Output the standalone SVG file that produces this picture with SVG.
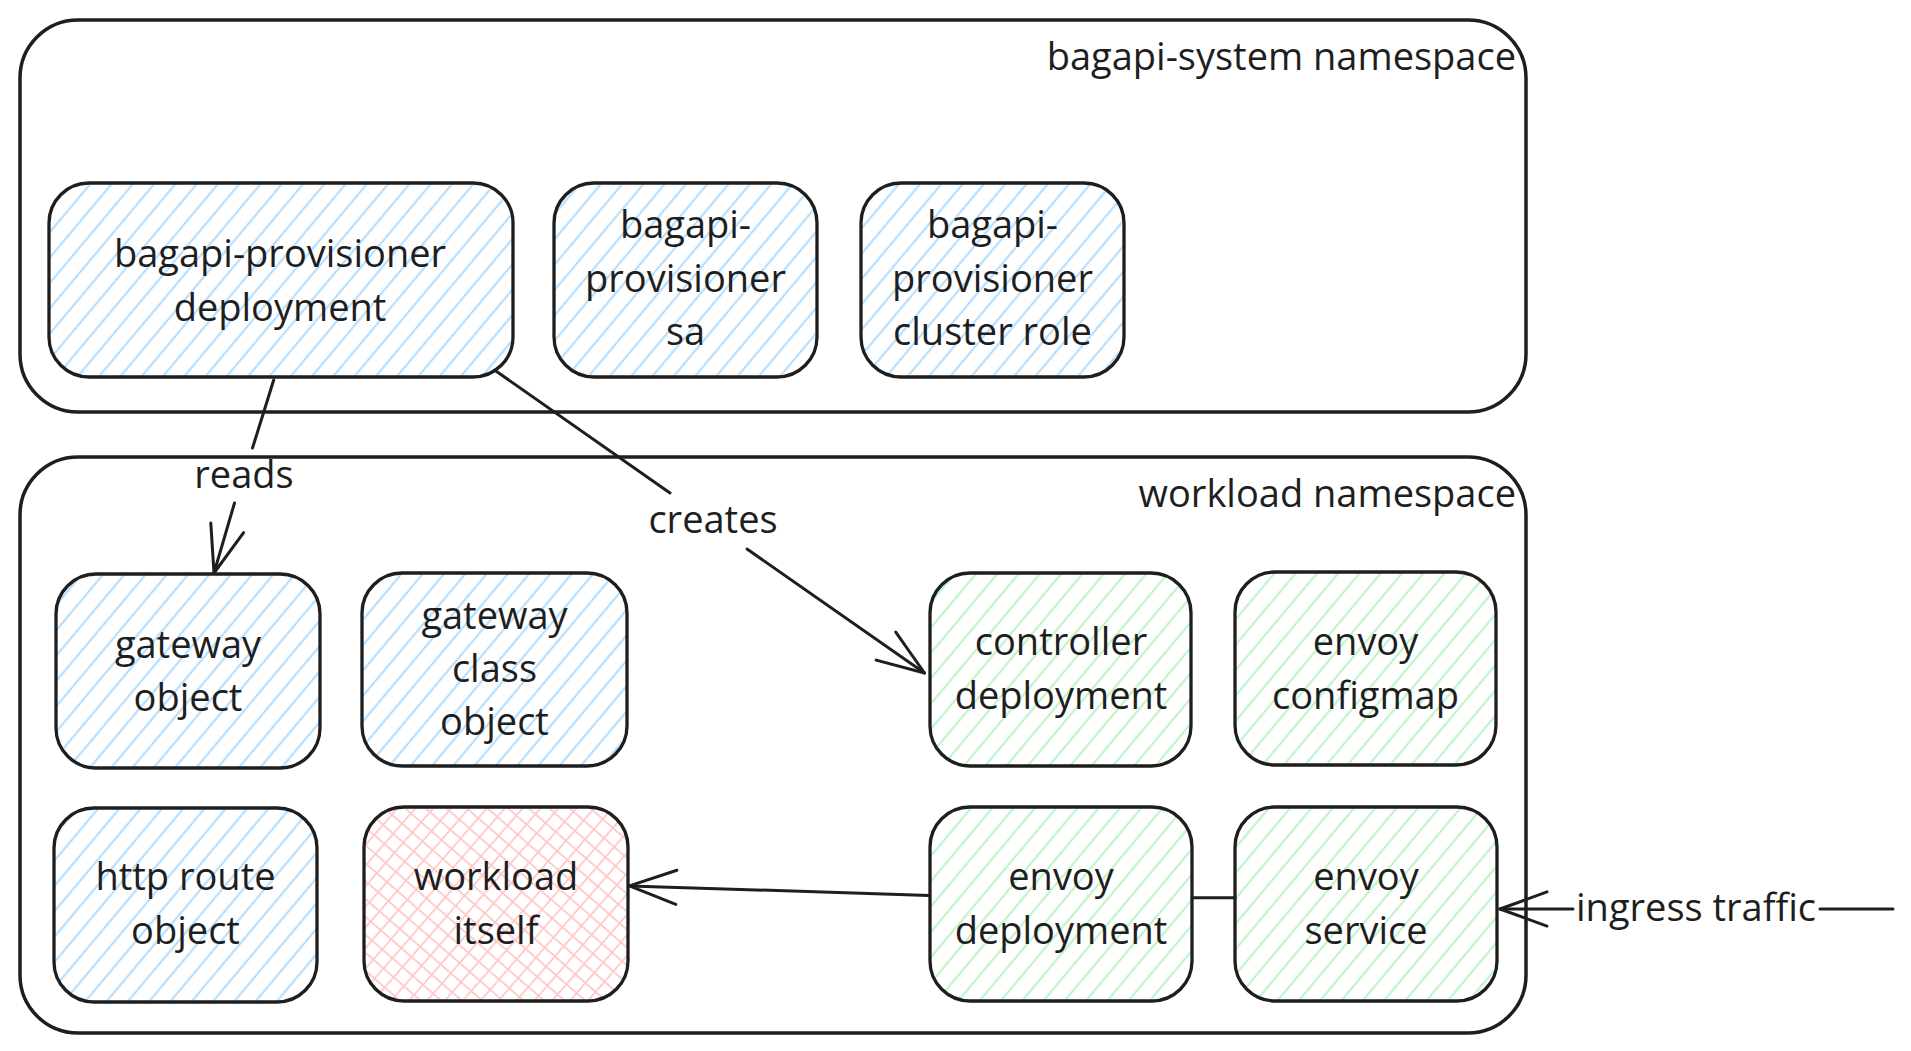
<svg xmlns="http://www.w3.org/2000/svg" width="1911" height="1051" viewBox="0 0 1911 1051">
<style>
text{font-family:"Open Sans","Noto Sans","Liberation Sans",sans-serif;font-size:38px;fill:#1e1e1e}
.c{text-anchor:middle}
.e{text-anchor:end}
.ns{fill:#ffffff;stroke:#1e1e1e;stroke-width:3.5}
.node{stroke:#1e1e1e;stroke-width:3.3}
.blue{fill:url(#hb)}
.green{fill:url(#hg)}
.pink{fill:url(#hp)}
.conn{fill:none;stroke:#1e1e1e;stroke-width:3;stroke-linecap:round}
</style>
<defs>
<pattern id="hb" patternUnits="userSpaceOnUse" width="16.3" height="20" patternTransform="rotate(40)">
<line x1="8.15" y1="-2" x2="8.15" y2="22" stroke="#a5d8ff" stroke-width="1.8"/>
</pattern>
<pattern id="hg" patternUnits="userSpaceOnUse" width="16.3" height="20" patternTransform="rotate(40)">
<line x1="8.15" y1="-2" x2="8.15" y2="22" stroke="#b2f2bb" stroke-width="1.8"/>
</pattern>
<pattern id="hp" patternUnits="userSpaceOnUse" width="13.5" height="13.5" patternTransform="rotate(41)">
<line x1="6.75" y1="-1" x2="6.75" y2="14.5" stroke="#ffc9c9" stroke-width="1.8"/>
<line x1="-1" y1="6.75" x2="14.5" y2="6.75" stroke="#ffc9c9" stroke-width="1.8"/>
</pattern>
<marker id="arr" markerUnits="userSpaceOnUse" viewBox="-60 -30 70 60" refX="0" refY="0" markerWidth="70" markerHeight="60" orient="auto" overflow="visible">
<path d="M -47 -17.1 L 0 0 L -47 17.1" fill="none" stroke="#1e1e1e" stroke-width="3" stroke-linecap="round" stroke-linejoin="round"/>
</marker>
</defs>
<rect width="1911" height="1051" fill="#ffffff"/>

<g id="ns-system">
<rect class="ns" x="20" y="20" width="1506" height="392" rx="58"/>
<text class="e" x="1516" y="70">bagapi-system namespace</text>
</g>
<g id="ns-workload">
<rect class="ns" x="20" y="457" width="1506" height="576" rx="58"/>
<text class="e" x="1516" y="507">workload namespace</text>
</g>

<g id="provisioner-deployment">
<rect class="node blue" x="49" y="183" width="464" height="194" rx="40"/>
<text class="c" x="280" y="266.5">bagapi-provisioner</text>
<text class="c" x="280" y="321">deployment</text>
</g>
<g id="provisioner-sa">
<rect class="node blue" x="554" y="183" width="263" height="194" rx="40"/>
<text class="c" x="685.5" y="238">bagapi-</text>
<text class="c" x="685.5" y="292">provisioner</text>
<text class="c" x="685.5" y="345">sa</text>
</g>
<g id="provisioner-cluster-role">
<rect class="node blue" x="861" y="183" width="263" height="194" rx="40"/>
<text class="c" x="992.5" y="238">bagapi-</text>
<text class="c" x="992.5" y="292">provisioner</text>
<text class="c" x="992.5" y="345">cluster role</text>
</g>

<g id="gateway-object">
<rect class="node blue" x="56" y="574" width="264" height="194" rx="40"/>
<text class="c" x="188" y="657.5">gateway</text>
<text class="c" x="188" y="711">object</text>
</g>
<g id="gateway-class-object">
<rect class="node blue" x="362" y="573" width="265" height="193" rx="40"/>
<text class="c" x="494.5" y="629">gateway</text>
<text class="c" x="494.5" y="682">class</text>
<text class="c" x="494.5" y="735">object</text>
</g>
<g id="controller-deployment">
<rect class="node green" x="930" y="573" width="261" height="193" rx="40"/>
<text class="c" x="1061" y="655">controller</text>
<text class="c" x="1061" y="709">deployment</text>
</g>
<g id="envoy-configmap">
<rect class="node green" x="1235" y="572" width="261" height="193" rx="40"/>
<text class="c" x="1365.5" y="655">envoy</text>
<text class="c" x="1365.5" y="709">configmap</text>
</g>
<g id="http-route-object">
<rect class="node blue" x="54" y="808" width="263" height="194" rx="40"/>
<text class="c" x="185.5" y="890">http route</text>
<text class="c" x="185.5" y="944">object</text>
</g>
<g id="workload-itself">
<rect class="node pink" x="364" y="807" width="264" height="194" rx="40"/>
<text class="c" x="496" y="890">workload</text>
<text class="c" x="496" y="944">itself</text>
</g>
<g id="envoy-deployment">
<rect class="node green" x="930" y="807" width="262" height="194" rx="40"/>
<text class="c" x="1061" y="890">envoy</text>
<text class="c" x="1061" y="944">deployment</text>
</g>
<g id="envoy-service">
<rect class="node green" x="1235" y="807" width="262" height="194" rx="40"/>
<text class="c" x="1366" y="890">envoy</text>
<text class="c" x="1366" y="944">service</text>
</g>

<g id="connectors">
<line class="conn" x1="273.7" y1="380" x2="252.5" y2="448"/>
<line class="conn" x1="234.5" y1="503" x2="214" y2="573" marker-end="url(#arr)"/>
<text class="c" x="244" y="488">reads</text>
<line class="conn" x1="494.5" y1="370" x2="670" y2="493"/>
<line class="conn" x1="747" y1="549" x2="924.5" y2="673" marker-end="url(#arr)"/>
<text class="c" x="713" y="533">creates</text>
<line class="conn" x1="929" y1="895.4" x2="629.4" y2="885.9" marker-end="url(#arr)"/>
<line class="conn" x1="1192" y1="897.8" x2="1235" y2="897.8"/>
<line class="conn" x1="1893" y1="909" x2="1820" y2="909"/>
<line class="conn" x1="1573" y1="909" x2="1500" y2="909" marker-end="url(#arr)"/>
<text x="1576" y="921">ingress traffic</text>
</g>
</svg>
